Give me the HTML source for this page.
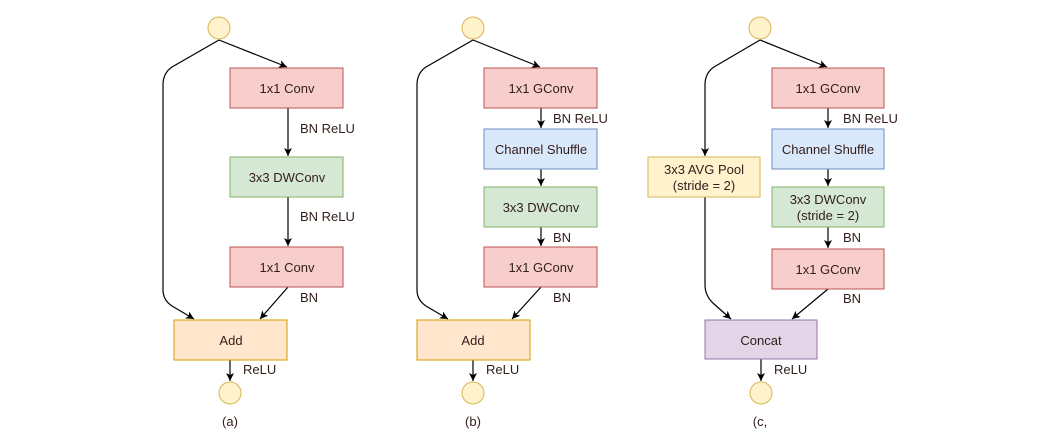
<!DOCTYPE html>
<html><head><meta charset="utf-8"><style>
html,body{margin:0;padding:0;background:#fff;width:1049px;height:436px;overflow:hidden}
text{font-family:"Liberation Sans",sans-serif;font-size:13px;fill:#33201c}
</style></head><body>
<svg width="1049" height="436" viewBox="0 0 1049 436" xmlns="http://www.w3.org/2000/svg">
<defs><marker id="a" markerWidth="10" markerHeight="10" refX="9" refY="5" orient="auto" markerUnits="userSpaceOnUse"><path d="M1,1 L9,5 L1,9 L3,5 Z" fill="#000"/></marker></defs>
<g fill="none" stroke="#000" stroke-width="1.2">
<path d="M219,40 L287,67" marker-end="url(#a)"/>
<path d="M219,40 L172,67 Q163,73 163,85 L163,290 Q163,300 172,306 L194,319" marker-end="url(#a)"/>
<path d="M288,108 L288,156" marker-end="url(#a)"/>
<path d="M288,197 L288,246" marker-end="url(#a)"/>
<path d="M288,287 L260,319" marker-end="url(#a)"/>
<path d="M230,360 L230,381" marker-end="url(#a)"/>
<path d="M473,40 L540,67" marker-end="url(#a)"/>
<path d="M473,40 L426,67 Q417,73 417,85 L417,290 Q417,300 426,306 L448,319" marker-end="url(#a)"/>
<path d="M541,108 L541,128" marker-end="url(#a)"/>
<path d="M541,169 L541,186" marker-end="url(#a)"/>
<path d="M541,227 L541,246" marker-end="url(#a)"/>
<path d="M541,287 L512,319" marker-end="url(#a)"/>
<path d="M473,360 L473,381" marker-end="url(#a)"/>
<path d="M760,40 L827,67" marker-end="url(#a)"/>
<path d="M760,40 L714,67 Q705,73 705,85 L705,156" marker-end="url(#a)"/>
<path d="M705,197 L705,285 Q705,296 714,304 L731,319" marker-end="url(#a)"/>
<path d="M828,108 L828,128" marker-end="url(#a)"/>
<path d="M828,169 L828,186" marker-end="url(#a)"/>
<path d="M828,227 L828,248" marker-end="url(#a)"/>
<path d="M828,289 L792,319" marker-end="url(#a)"/>
<path d="M761,359 L761,381" marker-end="url(#a)"/>
</g>
<g stroke-width="1">
<circle cx="219" cy="28" r="11" fill="#fff2cc" stroke="#d6b656"/>
<circle cx="230" cy="393" r="11" fill="#fff2cc" stroke="#d6b656"/>
<circle cx="473" cy="28" r="11" fill="#fff2cc" stroke="#d6b656"/>
<circle cx="473" cy="393" r="11" fill="#fff2cc" stroke="#d6b656"/>
<circle cx="760" cy="28" r="11" fill="#fff2cc" stroke="#d6b656"/>
<circle cx="761" cy="393" r="11" fill="#fff2cc" stroke="#d6b656"/>
<rect x="230" y="68" width="113" height="40" fill="#f8cecc" stroke="#b85450"/>
<rect x="230" y="157" width="113" height="40" fill="#d5e8d4" stroke="#82b366"/>
<rect x="230" y="247" width="113" height="40" fill="#f8cecc" stroke="#b85450"/>
<rect x="174" y="320" width="113" height="40" fill="#ffe6cc" stroke="#d79b00"/>
<rect x="484" y="68" width="113" height="40" fill="#f8cecc" stroke="#b85450"/>
<rect x="484" y="129" width="113" height="40" fill="#dae8fc" stroke="#6c8ebf"/>
<rect x="484" y="187" width="113" height="40" fill="#d5e8d4" stroke="#82b366"/>
<rect x="484" y="247" width="113" height="40" fill="#f8cecc" stroke="#b85450"/>
<rect x="417" y="320" width="113" height="40" fill="#ffe6cc" stroke="#d79b00"/>
<rect x="772" y="68" width="112" height="40" fill="#f8cecc" stroke="#b85450"/>
<rect x="772" y="129" width="112" height="40" fill="#dae8fc" stroke="#6c8ebf"/>
<rect x="772" y="187" width="112" height="40" fill="#d5e8d4" stroke="#82b366"/>
<rect x="772" y="249" width="112" height="40" fill="#f8cecc" stroke="#b85450"/>
<rect x="648" y="157" width="112" height="40" fill="#fff2cc" stroke="#d6b656"/>
<rect x="705" y="320" width="112" height="39" fill="#e1d5e7" stroke="#9673a6"/>
</g>
<g text-anchor="middle">
<text x="287" y="93">1x1 Conv</text>
<text x="287" y="182">3x3 DWConv</text>
<text x="287" y="272">1x1 Conv</text>
<text x="231" y="345">Add</text>
<text x="541" y="93">1x1 GConv</text>
<text x="541" y="154">Channel Shuffle</text>
<text x="541" y="212">3x3 DWConv</text>
<text x="541" y="272">1x1 GConv</text>
<text x="473" y="345">Add</text>
<text x="828" y="93">1x1 GConv</text>
<text x="828" y="154">Channel Shuffle</text>
<text x="828" y="204">3x3 DWConv</text>
<text x="828" y="220">(stride = 2)</text>
<text x="828" y="274">1x1 GConv</text>
<text x="704" y="174">3x3 AVG Pool</text>
<text x="704" y="190">(stride = 2)</text>
<text x="761" y="345">Concat</text>
<text x="230" y="426">(a)</text>
<text x="473" y="426">(b)</text>
<text x="760" y="426">(c,</text>
</g>
<g>
<text x="300" y="133">BN ReLU</text>
<text x="300" y="221">BN ReLU</text>
<text x="300" y="302">BN</text>
<text x="243" y="374">ReLU</text>
<text x="553" y="123">BN ReLU</text>
<text x="553" y="242">BN</text>
<text x="553" y="302">BN</text>
<text x="486" y="374">ReLU</text>
<text x="843" y="123">BN ReLU</text>
<text x="843" y="242">BN</text>
<text x="843" y="303">BN</text>
<text x="774" y="374">ReLU</text>
</g>
</svg>
</body></html>
